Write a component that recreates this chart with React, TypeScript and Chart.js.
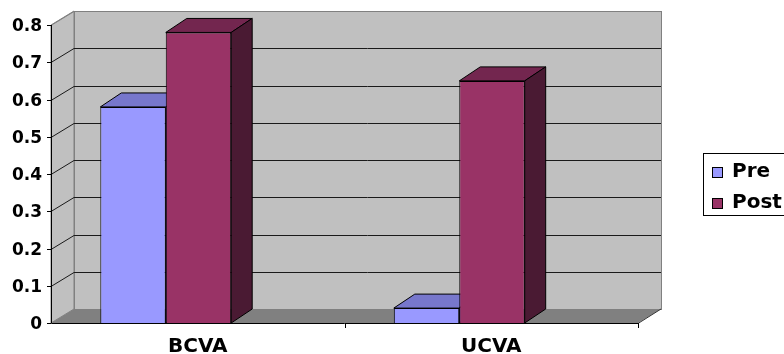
import React, { useEffect, useRef } from "react";
import { Chart, registerables } from "chart.js";

Chart.register(...registerables);

const categories = ["BCVA", "UCVA"];
const seriesNames = ["Pre", "Post"];
const preValues = [0.58, 0.04];
const postValues = [0.78, 0.65];
const yMin = 0;
const yMax = 0.8;
const yStep = 0.1;

const FRONT = ["#9999FF", "#993366"];
const TOP = ["#7777CC", "#73264F"];
const SIDE = ["#555599", "#4A1A33"];

const SHIFT = 32; // front plane shift vs. category centres
const WDX = 23;
const WDY = -14;
const BDX = 21;
const BDY = -14;

const FONT = "'DejaVu Sans', Verdana, sans-serif";

const threeD = {
  id: "threeD",
  beforeDatasetsDraw(chart: any) {
    const { ctx, chartArea, scales } = chart;
    const y = scales.y;
    const ax = chartArea.left + SHIFT;
    const ar = chartArea.right + SHIFT;
    const yTop = y.getPixelForValue(yMax);
    const y0 = y.getPixelForValue(yMin);
    ctx.save();
    ctx.lineWidth = 1;
    // back wall
    ctx.fillStyle = "#C0C0C0";
    ctx.strokeStyle = "#808080";
    ctx.fillRect(ax + WDX, yTop + WDY, ar - ax, y0 - yTop);
    ctx.strokeRect(ax + WDX + 0.5, yTop + WDY + 0.5, ar - ax, y0 - yTop);
    // side wall
    ctx.beginPath();
    ctx.moveTo(ax, yTop);
    ctx.lineTo(ax + WDX, yTop + WDY);
    ctx.lineTo(ax + WDX, y0 + WDY);
    ctx.lineTo(ax, y0);
    ctx.closePath();
    ctx.fillStyle = "#C0C0C0";
    ctx.fill();
    ctx.strokeStyle = "#808080";
    ctx.stroke();
    // gridlines
    y.ticks.forEach((t: any) => {
      if (t.value <= yMin) return;
      const py = Math.round(y.getPixelForValue(t.value)) + 0.5;
      ctx.strokeStyle = t.value >= yMax ? "#808080" : "#1a1a1a";
      ctx.beginPath();
      ctx.moveTo(ax, py);
      ctx.lineTo(ax + WDX, py + WDY);
      if (t.value < yMax) ctx.lineTo(ar + WDX, py + WDY);
      ctx.stroke();
    });
    // floor
    ctx.beginPath();
    ctx.moveTo(ax, y0);
    ctx.lineTo(ar, y0);
    ctx.lineTo(ar + WDX, y0 + WDY);
    ctx.lineTo(ax + WDX, y0 + WDY);
    ctx.closePath();
    ctx.fillStyle = "#808080";
    ctx.fill();
    ctx.strokeStyle = "#333";
    ctx.beginPath();
    ctx.moveTo(ar, y0 + 0.5);
    ctx.lineTo(ar + WDX, y0 + WDY);
    ctx.stroke();
    // front axes
    ctx.strokeStyle = "#000";
    ctx.beginPath();
    ctx.moveTo(ax + 0.5, yTop);
    ctx.lineTo(ax + 0.5, y0 + 0.5);
    ctx.lineTo(ar, y0 + 0.5);
    ctx.stroke();
    // y tick marks and labels
    ctx.fillStyle = "#000";
    ctx.font = `bold 17px ${FONT}`;
    ctx.textAlign = "right";
    ctx.textBaseline = "middle";
    y.ticks.forEach((t: any) => {
      const py = Math.round(y.getPixelForValue(t.value)) + 0.5;
      ctx.beginPath();
      ctx.moveTo(ax - 4, py);
      ctx.lineTo(ax, py);
      ctx.stroke();
      ctx.fillText(t.label, ax - 9, py + 1);
    });
    // x tick marks
    const xs = scales.x;
    const n = categories.length;
    for (let i = 1; i <= n; i++) {
      const px = Math.round(xs.left + (xs.width * i) / n + SHIFT) + 0.5;
      ctx.beginPath();
      ctx.moveTo(px, y0);
      ctx.lineTo(px, y0 + 5);
      ctx.stroke();
    }
    // bar 3D faces
    chart.data.datasets.forEach((ds: any, di: number) => {
      const meta = chart.getDatasetMeta(di);
      meta.data.forEach((bar: any) => {
        const l = bar.x - bar.width / 2;
        const r = bar.x + bar.width / 2;
        const top = bar.y;
        const base = bar.base;
        ctx.strokeStyle = "#000";
        ctx.beginPath();
        ctx.moveTo(l, top);
        ctx.lineTo(r, top);
        ctx.lineTo(r + BDX, top + BDY);
        ctx.lineTo(l + BDX, top + BDY);
        ctx.closePath();
        ctx.fillStyle = TOP[di];
        ctx.fill();
        ctx.stroke();
        ctx.beginPath();
        ctx.moveTo(r, top);
        ctx.lineTo(r + BDX, top + BDY);
        ctx.lineTo(r + BDX, base + BDY);
        ctx.lineTo(r, base);
        ctx.closePath();
        ctx.fillStyle = SIDE[di];
        ctx.fill();
        ctx.stroke();
      });
    });
    ctx.restore();
  },
  afterDraw(chart: any) {
    const { ctx } = chart;
    ctx.save();
    ctx.fillStyle = "#fff";
    ctx.strokeStyle = "#000";
    ctx.lineWidth = 1;
    ctx.fillRect(703, 153, 100, 62);
    ctx.strokeRect(703.5, 153.5, 100, 62);
    ctx.font = `bold 20px ${FONT}`;
    ctx.textAlign = "left";
    ctx.textBaseline = "middle";
    chart.data.datasets.forEach((ds: any, i: number) => {
      const cy = 172 + i * 31;
      ctx.fillStyle = FRONT[i];
      ctx.fillRect(712, cy - 5, 10, 10);
      ctx.strokeRect(712.5, cy - 4.5, 10, 10);
      ctx.fillStyle = "#000";
      ctx.fillText(ds.label, 732, cy);
    });
    ctx.restore();
  },
};

export default function App() {
  const ref = useRef<HTMLCanvasElement>(null);
  useEffect(() => {
    if (!ref.current) return;
    const chart = new Chart(ref.current, {
      type: "bar",
      data: {
        labels: categories,
        datasets: [
          {
            label: seriesNames[0],
            data: preValues,
            backgroundColor: FRONT[0],
            borderColor: "#000",
            borderWidth: 1,
          },
          {
            label: seriesNames[1],
            data: postValues,
            backgroundColor: FRONT[1],
            borderColor: "#000",
            borderWidth: 1,
          },
        ],
      },
      options: {
        responsive: false,
        animation: false,
        devicePixelRatio: 1,
        layout: { padding: { left: 19, right: 178, top: 25, bottom: 0 } },
        datasets: { bar: { categoryPercentage: 0.446, barPercentage: 1 } },
        plugins: { legend: { display: false }, tooltip: { enabled: false } },
        scales: {
          x: {
            grid: { display: false, drawTicks: false },
            border: { display: false },
            ticks: {
              color: "#000",
              font: { family: FONT, size: 20, weight: "bold" },
              labelOffset: SHIFT,
              padding: 12,
              maxRotation: 0,
            },
            afterFit: (s: any) => {
              s.height = 31;
            },
          },
          y: {
            display: false,
            min: yMin,
            max: yMax,
            ticks: { stepSize: yStep },
          },
        },
      },
      plugins: [threeD],
    });
    return () => chart.destroy();
  }, []);
  return (
    <div style={{ position: "fixed", left: 0, top: 0, width: 784, height: 354, background: "#fff" }}>
      <canvas ref={ref} width={784} height={354} />
    </div>
  );
}
